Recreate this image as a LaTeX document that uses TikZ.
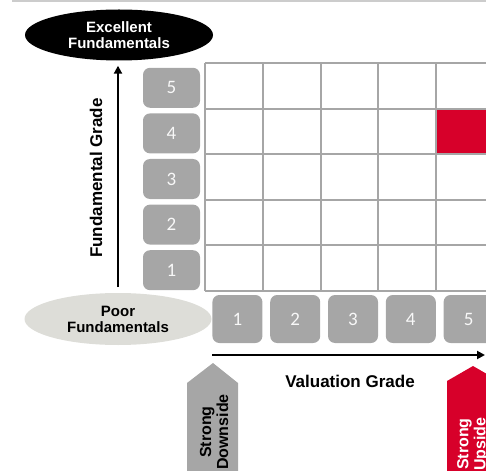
\documentclass[tikz,border=0pt]{standalone}
\usepackage{fontspec}
\setmainfont{Liberation Sans}
\newfontfamily\numfont{Carlito}
\usetikzlibrary{arrows.meta, positioning, shapes.geometric}
\definecolor{boxgray}{RGB}{166,166,166}
\definecolor{gridgray}{RGB}{166,166,166}
\definecolor{topgray}{RGB}{204,204,204}
\definecolor{poorgray}{RGB}{221,221,216}
\definecolor{signalred}{RGB}{215,0,42}
\tikzset{
  gradebox/.style={fill=boxgray, rounded corners=7pt, inner sep=0pt,
    text=white!92!boxgray, font=\numfont\fontsize{19}{19}\selectfont},
  endlabel/.style={ellipse, inner sep=0pt, minimum width=188pt, minimum height=51pt,
    align=center, font=\bfseries\fontsize{15}{16}\selectfont},
  axistext/.style={font=\bfseries\fontsize{17}{18}\selectfont},
  signaltext/.style={rotate=90, align=center, font=\bfseries\fontsize{16}{17}\selectfont},
  gradearrow/.style={-{Triangle[length=8pt, width=8pt]}, line width=2.6pt}
}
\begin{document}
\begin{tikzpicture}[x=1pt, y=-1pt]
        \clip (0,0) rectangle (486,470);
        \draw[topgray, line width=2pt] (12,1) -- (486,1);
        % matrix
        \fill[signalred] (436.2,108.6) rectangle (494,154.2);
        \foreach \i in {0,...,5} {
            \draw[gridgray, line width=2pt] ({205+57.8*\i},63) -- ({205+57.8*\i},291);
            \draw[gridgray, line width=2pt] (205,{63+45.6*\i}) -- (494,{63+45.6*\i});
        }
        \foreach \g in {1,...,5} {
            \node[gradebox, minimum width=57pt, minimum height=40pt] (fund\g) at (171.5,{63+45.6*(5-\g)+24.8}) {\g};
            \node[gradebox, minimum width=50pt, minimum height=48pt] (val\g) at ({237.4+57.8*(\g-1)},319) {\g};
        }
        % axes
        \node[endlabel, fill=black, text=white] (excellent) at (119,35) {Excellent\\Fundamentals};
        \node[endlabel, fill=poorgray, text=black, minimum width=187pt, minimum height=52pt] (poor) at (118,319) {Poor\\Fundamentals};
        \coordinate (fundbase) at (118,287);
        \draw[gradearrow] (fundbase) -- (fundbase |- excellent.south) [shorten >=5pt];
        \node[axistext, rotate=90] (fundlabel) at (96,178) {Fundamental Grade};
        \coordinate (valbase) at (212,355);
        \coordinate (valtip) at (485,355);
        \draw[gradearrow] (valbase) -- (valtip);
        \node[axistext] (vallabel) at (350,381) {Valuation Grade};
        % signals
        \fill[boxgray] (187,475) -- (187,383) -- (213,363) -- (238,383) -- (238,475) -- cycle;
        \node[signaltext, text=black] (downside) at (214,432) {Strong\\Downside};
        \fill[signalred] (447,475) -- (447,381) -- (473,366) -- (499,381) -- (499,475) -- cycle;
        \node[signaltext, text=white] (upside) at (473,444) {Strong\\Upside};
    \end{tikzpicture}
\end{document}
